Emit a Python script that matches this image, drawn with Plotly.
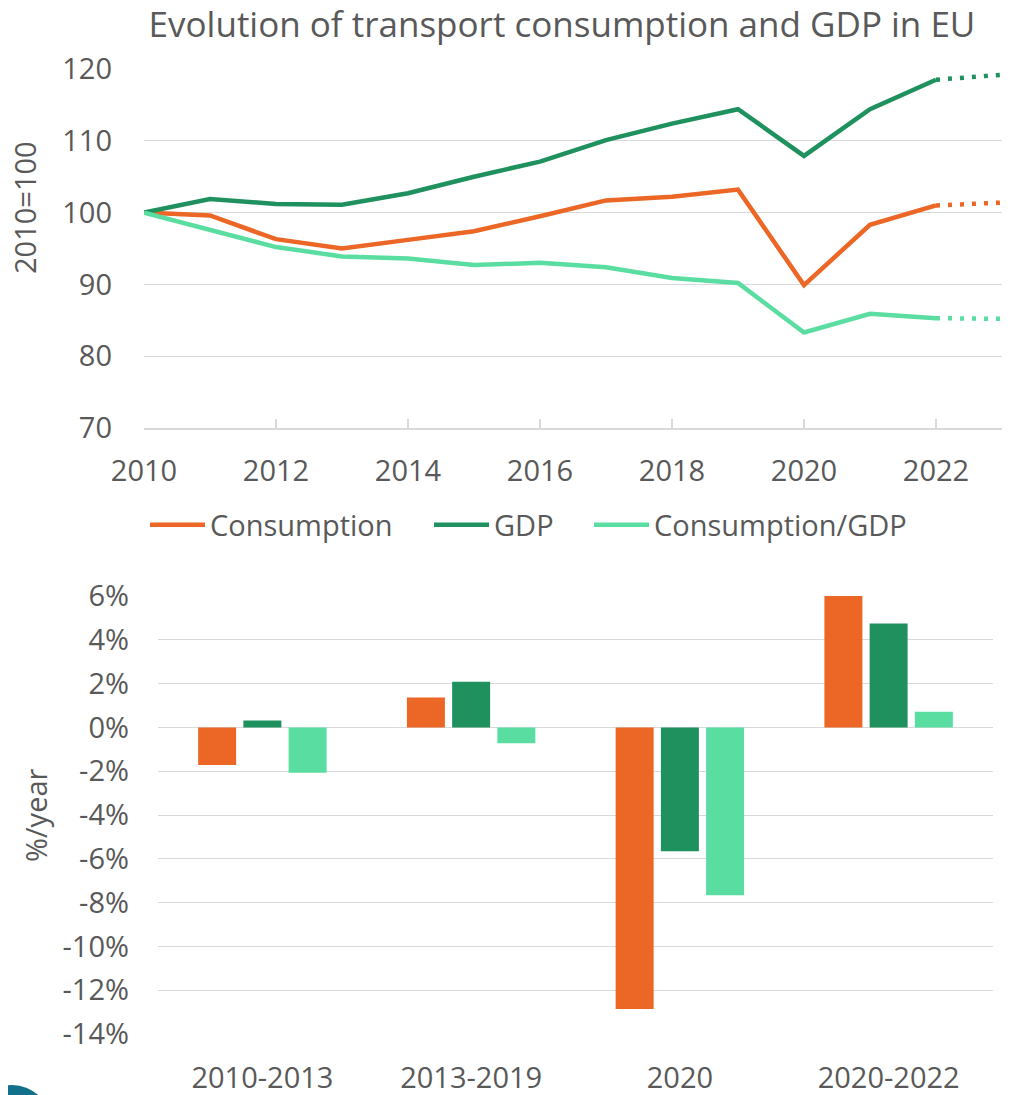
import plotly.graph_objects as go

# The page body has an 8px margin, so the figure starts at (8, 8) in the window.
OFF = 8
W, H = 1012 - OFF, 1095 - OFF

# ---- data: top chart (index 2010=100) ----
years = [2010, 2011, 2012, 2013, 2014, 2015, 2016, 2017, 2018, 2019, 2020, 2021, 2022]
consumption = [100, 99.6, 96.3, 95.0, 96.2, 97.4, 99.5, 101.7, 102.2, 103.2, 89.9, 98.3, 101.0]
gdp = [100, 101.9, 101.2, 101.1, 102.7, 105.0, 107.1, 110.1, 112.4, 114.4, 107.9, 114.4, 118.5]
ratio = [100, 97.6, 95.2, 93.9, 93.6, 92.7, 93.0, 92.4, 90.9, 90.2, 83.3, 85.9, 85.3]

proj_years = [2022, 2023]
consumption_proj = [101.0, 101.4]
gdp_proj = [118.5, 119.2]
ratio_proj = [85.3, 85.2]

x_ticks = [2010, 2012, 2014, 2016, 2018, 2020, 2022]
y_ticks_top = [70, 80, 90, 100, 110, 120]

# ---- data: bottom chart (%/year) ----
periods = ["2010-2013", "2013-2019", "2020", "2020-2022"]
cons_rate = [-1.72, 1.36, -12.86, 6.0]
gdp_rate = [0.32, 2.09, -5.65, 4.74]
ratio_rate = [-2.07, -0.72, -7.67, 0.71]

y_ticks_bot = [6, 4, 2, 0, -2, -4, -6, -8, -10, -12, -14]
y_ticktext_bot = ["6%", "4%", "2%", "0%", "-2%", "-4%", "-6%", "-8%", "-10%", "-12%", "-14%"]

names = ["Consumption", "GDP", "Consumption/GDP"]
colors = ["#EC6726", "#1F915F", "#5ADDA0"]

FONT = "Open Sans"
TXT = "#595959"
GRID = "#D9D9D9"
TICK_SIZE = 29


def px(x):
    return (x - OFF) / W


def py(y):
    return 1 - (y - OFF) / H


fig = go.Figure()

legend_ids = ["legend", "legend2", "legend3"]
legend_x = [150, 434, 594]  # page x where each legend entry starts

series = [consumption, gdp, ratio]
proj = [consumption_proj, gdp_proj, ratio_proj]
for name, col, vals, pv, lg in zip(names, colors, series, proj, legend_ids):
    fig.add_trace(go.Scatter(x=years, y=vals, mode="lines", name=name,
                             line=dict(color=col, width=4.5),
                             xaxis="x", yaxis="y", legendgroup=name, legend=lg,
                             hoverinfo="skip"))
    fig.add_trace(go.Scatter(x=proj_years, y=pv, mode="lines", name=name,
                             line=dict(color=col, width=4.5, dash="4px,8px"),
                             xaxis="x", yaxis="y", legendgroup=name, legend=lg,
                             showlegend=False, hoverinfo="skip"))

for name, col, vals in zip(names, colors, [cons_rate, gdp_rate, ratio_rate]):
    fig.add_trace(go.Bar(x=periods, y=vals, name=name, marker=dict(color=col, line=dict(width=0)),
                         xaxis="x2", yaxis="y2", showlegend=False, legendgroup=name,
                         hoverinfo="skip"))


def legend_box(x0):
    return dict(orientation="h", x=px(x0 - 5), y=py(525), xanchor="left", yanchor="middle",
                font=dict(family=FONT, size=29, color=TXT), itemwidth=55,
                bgcolor="rgba(0,0,0,0)", borderwidth=0)


fig.update_layout(
    template="none",
    width=W, height=H, autosize=False,
    margin=dict(l=0, r=0, t=0, b=0, pad=0, autoexpand=False),
    paper_bgcolor="white", plot_bgcolor="white",
    font=dict(family=FONT, color=TXT, size=TICK_SIZE),
    title=dict(text="Evolution of transport consumption and GDP in EU",
               x=px(562), y=py(25), xanchor="center", yanchor="middle",
               xref="paper", yref="paper", automargin=False,
               font=dict(family=FONT, size=35, color=TXT)),
    showlegend=True,
    legend=legend_box(legend_x[0]),
    legend2=legend_box(legend_x[1]),
    legend3=legend_box(legend_x[2]),
    barmode="group", bargap=0.35, bargroupgap=0.16,
    xaxis=dict(domain=[px(144), px(1002)], range=[2010, 2023], anchor="y",
               automargin=False,
               tickvals=x_ticks, ticktext=[str(v) for v in x_ticks],
               showgrid=False, zeroline=False,
               showline=True, linecolor=GRID, linewidth=1.5,
               ticks="inside", ticklen=9, tickcolor=GRID, tickwidth=1.5,
               ticklabelstandoff=16,
               tickfont=dict(size=TICK_SIZE, color=TXT)),
    yaxis=dict(domain=[py(428), py(69)], range=[70, 120], anchor="x",
               automargin=False,
               tickvals=y_ticks_top, ticktext=[str(v) for v in y_ticks_top],
               showgrid=True, gridcolor=GRID, gridwidth=1.3, zeroline=False,
               showline=False, ticks="", ticklabelstandoff=31,
               tickfont=dict(size=TICK_SIZE, color=TXT)),
    xaxis2=dict(domain=[px(158), px(993)], anchor="y2", automargin=False,
                type="category", categoryorder="array", categoryarray=periods,
                showgrid=False, zeroline=False, showline=False, ticks="",
                ticklabelstandoff=24,
                tickfont=dict(size=TICK_SIZE, color=TXT)),
    yaxis2=dict(domain=[py(1034), py(596)], range=[-14, 6], anchor="x2",
                automargin=False,
                tickvals=y_ticks_bot, ticktext=y_ticktext_bot,
                showgrid=True, gridcolor=GRID, gridwidth=1.3, zeroline=False,
                showline=False, ticks="", ticklabelstandoff=28,
                tickfont=dict(size=TICK_SIZE, color=TXT)),
    annotations=[
        dict(text="2010=100", x=px(24), y=py(208), xref="paper", yref="paper",
             showarrow=False, textangle=-90, xanchor="center", yanchor="middle",
             font=dict(family=FONT, size=TICK_SIZE, color=TXT)),
        dict(text="%/year", x=px(35), y=py(815), xref="paper", yref="paper",
             showarrow=False, textangle=-90, xanchor="center", yanchor="middle",
             font=dict(family=FONT, size=TICK_SIZE, color=TXT)),
    ],
    shapes=[
        dict(type="circle", xref="paper", yref="paper",
             x0=px(12 - 39), x1=px(12 + 39), y0=py(1124 + 39), y1=py(1124 - 39),
             fillcolor="#11708A", line=dict(width=0), layer="above"),
    ],
)

fig.write_html("out.html")
